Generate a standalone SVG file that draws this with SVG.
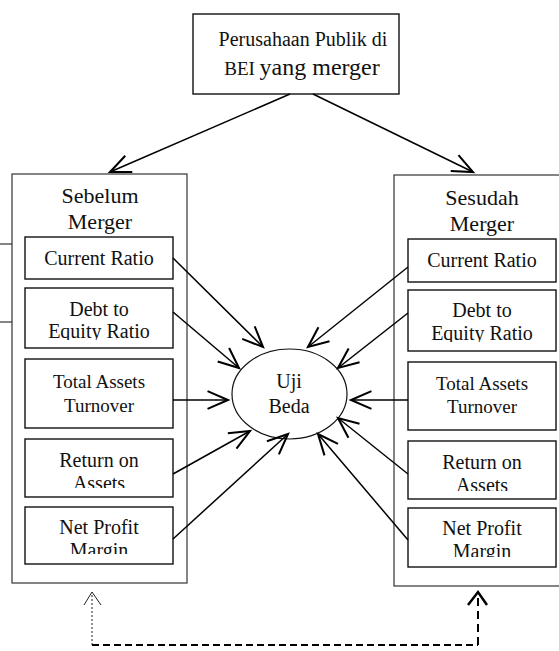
<svg xmlns="http://www.w3.org/2000/svg" width="559" height="651" viewBox="0 0 559 651">
<style>
  text { font-family: "Liberation Serif", "Times New Roman", serif; fill: #111; text-anchor: middle; }
  .outer { fill: none; stroke: #333; stroke-width: 1.2; }
  .box { fill: #fff; stroke: #111; stroke-width: 1.4; }
  .t20 { font-size: 20px; }
  .t19 { font-size: 19px; }
  .t22 { font-size: 22px; }
  .conn { fill: none; stroke: #000; stroke-width: 1.5; }
</style>
<defs>
  <marker id="arr" markerUnits="userSpaceOnUse" markerWidth="30" markerHeight="30" refX="0" refY="0" viewBox="-20 -10 22 20" orient="auto" overflow="visible">
    <path d="M-15,-6.5 L0,0 L-15,6.5" fill="none" stroke="#000" stroke-width="1.5"/>
  </marker>
  <clipPath id="cLDE" clipPathUnits="userSpaceOnUse"><rect x="25" y="288" width="148" height="52"/></clipPath>
  <clipPath id="cLRA" clipPathUnits="userSpaceOnUse"><rect x="25" y="439" width="148" height="49"/></clipPath>
  <clipPath id="cLNP" clipPathUnits="userSpaceOnUse"><rect x="25" y="507" width="148" height="47"/></clipPath>
  <clipPath id="cRDE" clipPathUnits="userSpaceOnUse"><rect x="408" y="290" width="148" height="52"/></clipPath>
  <clipPath id="cRRA" clipPathUnits="userSpaceOnUse"><rect x="408" y="441" width="148" height="50"/></clipPath>
  <clipPath id="cRNP" clipPathUnits="userSpaceOnUse"><rect x="408" y="508" width="148" height="49"/></clipPath>
</defs>
<rect width="559" height="651" fill="#fff"/>

<g id="top">
  <rect class="box" x="193" y="14" width="206" height="80"/>
  <text class="t20" x="303" y="46">Perusahaan Publik di</text>
  <text x="302" y="75"><tspan font-size="19">BEI </tspan><tspan font-size="24">yang merger</tspan></text>
</g>

<g id="sebelum">
  <rect class="outer" x="12" y="174" width="175" height="409"/>
  <text class="t22" x="100" y="203">Sebelum</text>
  <text class="t22" x="100" y="229">Merger</text>
</g>
<g id="stubs">
  <line x1="0" y1="244" x2="12" y2="244" stroke="#333" stroke-width="1.2"/>
  <line x1="0" y1="322" x2="12" y2="322" stroke="#333" stroke-width="1.2"/>
</g>
<g id="l-cr">
  <rect class="box" x="25" y="237" width="148" height="42"/>
  <text class="t20" x="99" y="265">Current Ratio</text>
</g>
<g id="l-de">
  <rect class="box" x="25" y="288" width="148" height="60"/>
  <g clip-path="url(#cLDE)">
    <text class="t20" x="99" y="316">Debt to</text>
    <text class="t20" x="99" y="338">Equity Ratio</text>
  </g>
</g>
<g id="l-ta">
  <rect class="box" x="25" y="359" width="148" height="69"/>
  <text class="t19" x="99" y="388">Total Assets</text>
  <text class="t19" x="99" y="412">Turnover</text>
</g>
<g id="l-ra">
  <rect class="box" x="25" y="439" width="148" height="58"/>
  <g clip-path="url(#cLRA)">
    <text class="t20" x="99" y="467">Return on</text>
    <text class="t20" x="99" y="490">Assets</text>
  </g>
</g>
<g id="l-np">
  <rect class="box" x="25" y="507" width="148" height="57"/>
  <g clip-path="url(#cLNP)">
    <text class="t20" x="99" y="534">Net Profit</text>
    <text class="t20" x="99" y="557">Margin</text>
  </g>
</g>

<g id="sesudah">
  <rect class="outer" x="394" y="175" width="185" height="411"/>
  <text class="t22" x="482" y="205">Sesudah</text>
  <text class="t22" x="482" y="231">Merger</text>
</g>
<g id="r-cr">
  <rect class="box" x="408" y="239" width="148" height="43"/>
  <text class="t20" x="482" y="267">Current Ratio</text>
</g>
<g id="r-de">
  <rect class="box" x="408" y="290" width="148" height="61"/>
  <g clip-path="url(#cRDE)">
    <text class="t20" x="482" y="317">Debt to</text>
    <text class="t20" x="482" y="340">Equity Ratio</text>
  </g>
</g>
<g id="r-ta">
  <rect class="box" x="408" y="362" width="148" height="68"/>
  <text class="t19" x="482" y="390">Total Assets</text>
  <text class="t19" x="482" y="413">Turnover</text>
</g>
<g id="r-ra">
  <rect class="box" x="408" y="441" width="148" height="58"/>
  <g clip-path="url(#cRRA)">
    <text class="t20" x="482" y="469">Return on</text>
    <text class="t20" x="482" y="492">Assets</text>
  </g>
</g>
<g id="r-np">
  <rect class="box" x="408" y="508" width="148" height="59"/>
  <g clip-path="url(#cRNP)">
    <text class="t20" x="482" y="535">Net Profit</text>
    <text class="t20" x="482" y="558">Margin</text>
  </g>
</g>

<g id="ujibeda">
  <ellipse cx="289.5" cy="394" rx="57.5" ry="45" fill="#fff" stroke="#111" stroke-width="1.2"/>
  <text class="t20" x="289" y="388">Uji</text>
  <text class="t20" x="289" y="413">Beda</text>
</g>

<g id="connectors">
  <line class="conn" x1="290" y1="94" x2="110" y2="172" marker-end="url(#arr)"/>
  <line class="conn" x1="313" y1="94" x2="473" y2="172" marker-end="url(#arr)"/>
  <line class="conn" x1="173" y1="258" x2="263" y2="347" marker-end="url(#arr)"/>
  <line class="conn" x1="173" y1="312" x2="239" y2="368" marker-end="url(#arr)"/>
  <line class="conn" x1="173" y1="400" x2="228" y2="400" marker-end="url(#arr)"/>
  <line class="conn" x1="173" y1="474" x2="250" y2="431" marker-end="url(#arr)"/>
  <line class="conn" x1="173" y1="539" x2="288" y2="434" marker-end="url(#arr)"/>
  <line class="conn" x1="408" y1="267" x2="308" y2="347" marker-end="url(#arr)"/>
  <line class="conn" x1="408" y1="313" x2="338" y2="368" marker-end="url(#arr)"/>
  <line class="conn" x1="408" y1="400" x2="351" y2="400" marker-end="url(#arr)"/>
  <line class="conn" x1="408" y1="474" x2="338" y2="418" marker-end="url(#arr)"/>
  <line class="conn" x1="408" y1="540" x2="318" y2="434" marker-end="url(#arr)"/>
  <g id="feedback">
    <path d="M92,645 L92,593" fill="none" stroke="#222" stroke-width="1" stroke-dasharray="2 2"/>
    <path d="M84,605 L92,592 L101,605" fill="none" stroke="#222" stroke-width="1"/>
    <path d="M92,645 L478,645" fill="none" stroke="#000" stroke-width="2" stroke-dasharray="7 4"/>
    <path d="M478,645 L478,595" fill="none" stroke="#000" stroke-width="2" stroke-dasharray="8 5"/>
    <path d="M468,605 L478,592 L487,605" fill="none" stroke="#000" stroke-width="2.5"/>
  </g>
</g>
</svg>
